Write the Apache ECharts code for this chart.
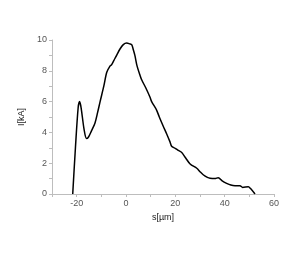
<!DOCTYPE html>
<html><head><meta charset="utf-8">
<script src="https://cdn.jsdelivr.net/npm/echarts@6/dist/echarts.min.js"></script>
<style>html,body{margin:0;padding:0;background:#fff}#c{width:299px;height:268px}</style>
</head><body><div id="c"></div>
<script>
const sValues = [-21.6,-20.5,-19.4,-18.8,-18.2,-17,-16,-15.2,-14,-12.6,-11.5,-10.5,-9,-7.8,-6.5,-5.8,-4.5,-3.8,-2.5,-1.1,0.3,1.5,2.3,3.0,3.6,4.5,5.7,6.4,8,9.7,10.4,12.4,13.5,15.1,16.5,17.8,18.5,19.9,21,22.6,23.9,26,28.7,30,31.3,33,34.1,36,37.4,39,40.8,42.5,44.2,46.2,47.3,49.6,50.5,52.3];
const iValues = [0,3,5.6,6.0,5.6,4.2,3.6,3.7,4.1,4.6,5.3,6.0,7.0,7.9,8.3,8.4,8.8,9.0,9.4,9.7,9.8,9.75,9.7,9.35,9.0,8.3,7.7,7.4,6.9,6.3,6.0,5.45,5.0,4.4,3.9,3.4,3.1,2.97,2.85,2.7,2.4,1.95,1.67,1.45,1.25,1.08,1.02,1.0,1.06,0.85,0.69,0.58,0.54,0.54,0.43,0.47,0.35,0];
const xTickLabels = [-20, 0, 20, 40, 60];
const yTickLabels = [0, 2, 4, 6, 8, 10];
const xAxisRange = {min:-30, max:60, tickStep:10};
const yAxisRange = {min:0, max:10, tickStep:1};
const xName = 's[µm]';
const yName = 'I[kA]';

const chart = echarts.init(document.getElementById('c'));
const font = 'Liberation Sans, Arial, sans-serif';
function axis(range, labels, name, gap) {
  return {
    type:'value', min:range.min, max:range.max, interval:range.tickStep,
    name:name, nameLocation:'middle', nameGap:gap,
    nameTextStyle:{color:'#222', fontSize:9, fontFamily:font},
    axisLine:{show:true, onZero:false, lineStyle:{color:'#bdbdbd', width:1}},
    axisTick:{show:true, inside:false, length:3, lineStyle:{color:'#bdbdbd'}},
    splitLine:{show:false},
    axisLabel:{color:'#555', fontSize:9, fontFamily:font, margin:5,
      formatter: v => labels.indexOf(v) >= 0 ? String(v) : ''}
  };
}
chart.setOption({
  animation:false,
  grid:{left:52, right:25, top:40, bottom:74, containLabel:false},
  xAxis: axis(xAxisRange, xTickLabels, xName, 15),
  yAxis: axis(yAxisRange, yTickLabels, yName, 16),
  series:[{type:'line', data:sValues.map((s,i)=>[s,iValues[i]]), showSymbol:false, smooth:0.3,
    lineStyle:{color:'#000', width:1.5}}]
});
</script></body></html>
